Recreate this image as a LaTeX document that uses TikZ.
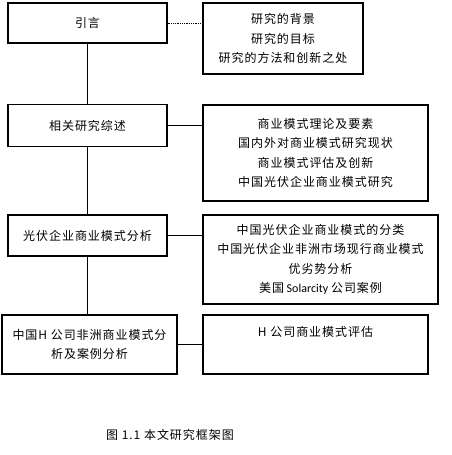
\documentclass[tikz,border=0pt]{standalone}
\usepackage{fontspec}
\setmainfont{Noto Sans CJK SC}[LetterSpace=8]
\newfontfamily\latinfont{Carlito}
\begin{document}
\begin{tikzpicture}[x=1pt,y=-1pt,
  box/.style={draw,line width=1.1pt,align=center,inner sep=0pt,font=\fontsize{12}{19.5}\selectfont},
  thin/.style={line width=0.7pt},
  thick2/.style={line width=1.6pt},
  dots/.style={line width=0.9pt,dash pattern=on 1pt off 0.8pt}]
\useasboundingbox (0,0) rectangle (451,455);
\node[box,minimum width=159pt,minimum height=40pt] (A) at (87.5,23) {引言};
\node[box,minimum width=160pt,minimum height=71pt] (A2) at (283,38.5) {研究的背景\\研究的目标\\研究的方法和创新之处};
\node[box,minimum width=159pt,minimum height=42pt] (B) at (87.5,125.5) {相关研究综述};
\node[box,minimum width=225pt,minimum height=96pt] (B2) at (315.5,153) {商业模式理论及要素\\国内外对商业模式研究现状\\商业模式评估及创新\\中国光伏企业商业模式研究};
\node[box,minimum width=159pt,minimum height=41pt] (C) at (87.5,235.5) {光伏企业商业模式分析};
\node[box,minimum width=235pt,minimum height=89pt] (C2) at (320.5,259.5) {中国光伏企业商业模式的分类\\中国光伏企业非洲市场现行商业模式\\优劣势分析\\美国{\latinfont\ Solarcity }公司案例};
\node[box,minimum width=175pt,minimum height=59pt] (D) at (89.5,344.5) {中国H 公司非洲商业模式分\\析及案例分析};
\node[box,minimum width=225pt,minimum height=59pt] (D2) at (315.5,344.5) {H 公司商业模式评估\\\strut};
\node[font=\fontsize{12}{14}\selectfont] (cap) at (170,435) {图 1.1 本文研究框架图};
\draw[thin] (A.south) -- (B.north);
\draw[thin] (B.south) -- (C.north);
\draw[thin] (C.south) -- (C.south |- D.north);
\draw[dots] (A.east) -- (A.east -| A2.west);
\draw[thin] (B.east) -- (B.east -| B2.west);
\draw[thick2] (C.east) -- (C.east -| C2.west);
\draw[thick2] (D.east) -- (D.east -| D2.west);
\end{tikzpicture}
\end{document}
